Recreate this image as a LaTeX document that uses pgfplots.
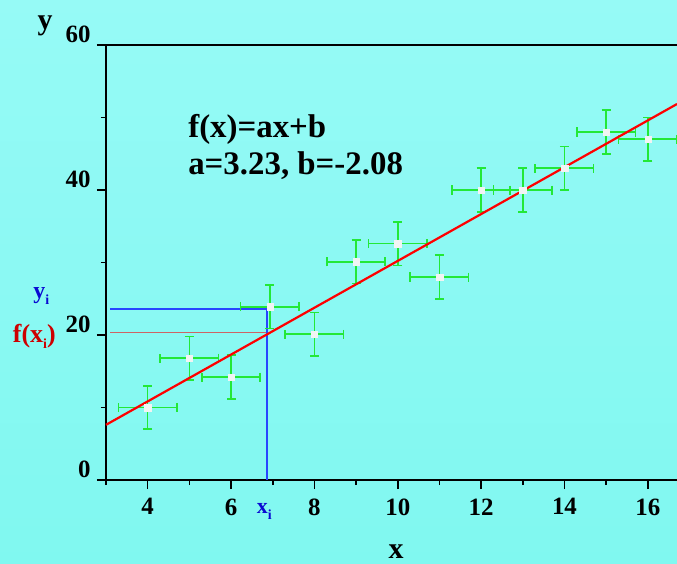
\documentclass[border=0pt]{standalone}
\usepackage{fontspec}
\setmainfont{Liberation Serif}
\usepackage{pgfplots}
\usepackage{pgfplotstable}
\pgfplotsset{compat=1.18}
\definecolor{bgtop}{RGB}{150,250,246}
\definecolor{bgbot}{RGB}{128,248,240}
\definecolor{ecol}{RGB}{35,232,55}
\definecolor{fitred}{RGB}{255,0,0}
\definecolor{lblue}{RGB}{40,70,255}
\definecolor{tblue}{RGB}{10,10,210}
\definecolor{tred}{RGB}{205,0,0}
\definecolor{lred}{RGB}{205,100,100}
\definecolor{mk}{RGB}{242,244,244}
\newcommand{\sub}[1]{\raisebox{-6bp}{\fontsize{14}{14}\selectfont #1}}
\pgfplotstableread{
x y ex ey
4 10.0 0.7 3
5 16.8 0.7 3
6 14.2 0.7 3
6.93 23.9 0.7 3
8 20.1 0.7 3
9 30.1 0.7 3
10 32.6 0.7 3
11 28.0 0.7 3
12 40.0 0.7 3
13 40.0 0.7 3
14 43.0 0.7 3
15 48.0 0.7 3
16 47.0 0.7 3
}\datatable
\begin{document}
\begin{tikzpicture}
\shade[top color=bgtop, bottom color=bgbot] (0,0) rectangle (677bp,564bp);
\useasboundingbox (0,0) rectangle (677bp,564bp);
\begin{axis}[
  at={(106bp,84bp)}, anchor=south west,
  scale only axis, width=571bp, height=435bp,
  xmin=3, xmax=16.70, ymin=0, ymax=60,
  axis x line=box, axis y line=left,
  axis line style={-, line width=1.6bp, black},
  xtick={4,6,...,16}, minor xtick={3,5,...,15},
  ytick={0,20,40,60}, minor ytick={10,30,50},
  xtick pos=bottom, ytick pos=left,
  tick align=outside,
  major tick length=9bp, minor tick length=5bp,
  tick style={line width=1.6bp, black},
  /pgf/number format/assume math mode=true,
  tick label style={font=\bfseries\fontsize{25}{25}\selectfont},
  yticklabel style={yshift=11bp, xshift=-3bp},
  xticklabel style={yshift=-6bp},
  clip=false,
]
% guide lines
\addplot[lblue, line width=1.2bp] coordinates {(3.1,23.6) (6.86,23.6)};
\addplot[lred, line width=1.2bp] coordinates {(3.1,20.4) (6.86,20.4)};
\addplot[lblue, line width=1.4bp] coordinates {(6.86,23.6) (6.86,0)};
% error bars with markers
\addplot[ecol, line width=1.6bp, only marks, mark=square*, mark size=3.2bp,
  mark options={fill=mk, draw=mk, line width=0.2bp},
  error bars/.cd, x dir=both, x explicit, y dir=both, y explicit,
  error bar style={line width=1.6bp, ecol},
  error mark=-,
  error mark options={ecol, line width=1.6bp, mark size=4.5bp, rotate=90}]
  table[x=x, y=y, x error=ex, y error=ey] {\datatable};
% fit line
\addplot[fitred, line width=2.2bp] coordinates {(3,7.61) (16.70,51.86)};
% labels
\node[font=\bfseries\fontsize{30}{30}\selectfont] at (axis cs:9.96,-9.9) {x};
\node[font=\bfseries\fontsize{30}{30}\selectfont] at (axis cs:1.54,62.7) {y};
\node[font=\bfseries\fontsize{24}{24}\selectfont, text=tblue] at (axis cs:1.45,25.4) {y\sub{i}};
\node[font=\bfseries\fontsize{26}{26}\selectfont, text=tred] at (axis cs:1.28,19.8) {f(x\sub{i})};
\node[font=\bfseries\fontsize{22}{22}\selectfont, text=tblue] at (axis cs:6.80,-4.3) {x\sub{i}};
\node[font=\bfseries\fontsize{33}{33}\selectfont, anchor=west, inner sep=0pt] at (axis cs:4.97,48.3) {f(x)=ax+b};
\node[font=\bfseries\fontsize{33}{33}\selectfont, anchor=west, inner sep=0pt] at (axis cs:4.97,43.4) {a=3.23, b=-2.08};
\end{axis}
\end{tikzpicture}
\end{document}
